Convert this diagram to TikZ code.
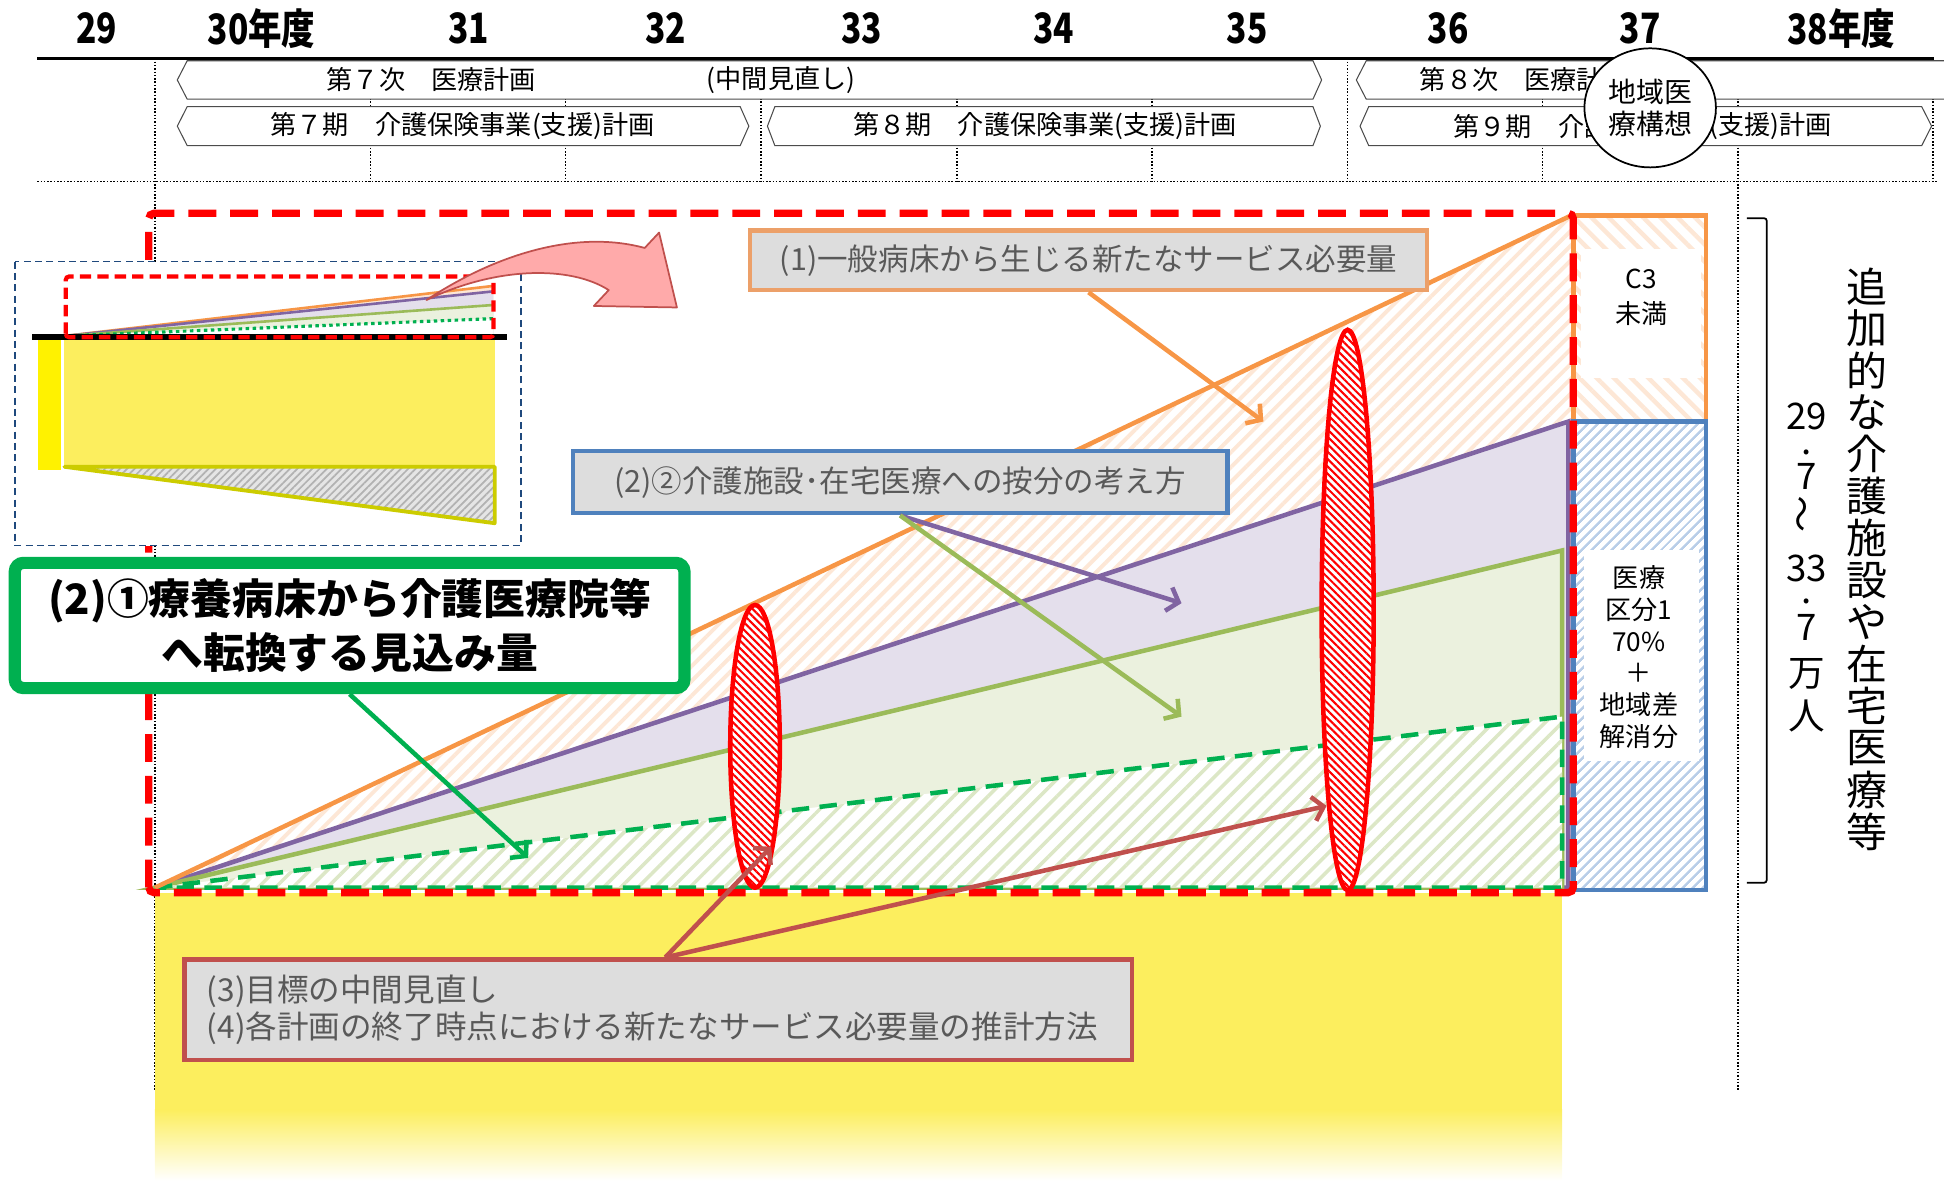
\documentclass[tikz,border=0pt]{standalone}
\usepackage{fontspec}
\usepackage{graphicx}
\setmainfont{Noto Sans CJK JP}
\newfontfamily\yearfont[FakeStretch=0.8]{Noto Sans CJK JP}
\usetikzlibrary{arrows.meta, patterns.meta, shapes.geometric, positioning}

\definecolor{chartorange}{RGB}{247,150,70}
\definecolor{chartpurple}{RGB}{128,100,162}
\definecolor{chartgreen}{RGB}{155,187,89}
\definecolor{dashgreen}{RGB}{0,176,80}
\definecolor{lavender}{RGB}{228,223,236}
\definecolor{palegreen}{RGB}{235,241,222}
\definecolor{hatchorange}{RGB}{253,231,214}
\definecolor{hatchgreen}{RGB}{220,231,198}
\definecolor{hatchblue}{RGB}{185,206,232}
\definecolor{boxblue}{RGB}{79,129,189}
\definecolor{insetblue}{RGB}{31,73,125}
\definecolor{insetolive}{RGB}{204,204,0}
\definecolor{yellowfill}{RGB}{252,238,94}
\definecolor{labelgray}{RGB}{221,221,221}
\definecolor{labeltext}{RGB}{89,89,89}
\definecolor{labelorange}{RGB}{236,160,105}
\definecolor{labelred}{RGB}{192,80,77}
\definecolor{pinkarrow}{RGB}{255,170,170}

\tikzset{
  gridline/.style={densely dotted, line width=0.9pt},
  yearlbl/.style={font=\yearfont\bfseries\fontsize{24}{26}\selectfont, inner sep=0pt},
  planbox/.style={draw=black!70, line width=0.6pt, fill=white},
  plantext/.style={font=\fontsize{15}{17}\selectfont, inner sep=0pt},
  boxtext/.style={font=\fontsize{15}{18.2}\selectfont, align=center, inner sep=0pt},
  lblbox/.style={fill=labelgray, line width=2.5pt, text=labeltext, inner sep=0pt,
    font=\fontsize{17.5}{21.3}\selectfont},
  lblarrow/.style={line width=2.6pt, -{Straight Barb[length=6pt,width=14pt]}},
  chartline/.style={line width=2.6pt},
  reddash/.style={red, line width=4.2pt, dash pattern=on 16pt off 8pt},
  orangehatch/.style={preaction={fill=white},
    pattern={Lines[angle=45,distance=6pt,line width=2.2pt]}, pattern color=hatchorange},
  greenhatch/.style={preaction={fill=white},
    pattern={Lines[angle=45,distance=7pt,line width=2pt]}, pattern color=hatchgreen},
  bluehatch/.style={preaction={fill=white},
    pattern={Lines[angle=45,distance=4pt,line width=1.5pt]}, pattern color=hatchblue},
  boxhatch/.style={preaction={fill=white},
    pattern={Lines[angle=-45,distance=7pt,line width=2.5pt]}, pattern color=hatchorange},
  ellhatch/.style={preaction={fill=white},
    pattern={Lines[angle=-45,distance=3pt,line width=1.2pt]}, pattern color=red,
    draw=red, line width=2.6pt},
  insethatch/.style={preaction={fill=gray!20},
    pattern={Lines[angle=45,distance=3pt,line width=1pt]}, pattern color=gray!60},
  greenbox/.style={draw=dashgreen, line width=7pt, fill=white, rounded corners=5pt,
    minimum width=13.5cm, minimum height=2.525cm, align=center, inner sep=0pt,
    font=\bfseries\fontsize{24}{30.5}\selectfont},
  vtext/.style={font=\fontsize{23.5}{24}\selectfont, inner sep=0pt},
  vnum/.style={font=\fontsize{21}{21.3}\selectfont, inner sep=0pt, align=center}
}

\begin{document}
\begin{tikzpicture}[x=0.025cm, y=-0.025cm]
  \useasboundingbox (0,0) rectangle (1568,952);

  % time axis
  \foreach \xx in {299,456,614,772,929,1087,1244,1559}
    \draw[gridline] (\xx,47) -- (\xx,146.5);
  \draw[gridline] (125,47) -- (125,879);
  \draw[gridline] (1402,47) -- (1402,879);
  \draw[gridline] (30,146.5) -- (1562,146.5);
  \draw[line width=2pt] (30,47) -- (1560,47);

  \foreach \xx/\yr [count=\i] in {78/29, 211/30年度, 378/31, 537/32, 695/33,
      850/34, 1006/35, 1168/36, 1323/37, 1485/38年度}
    \node[yearlbl] (yr\i) at (\xx,23) {\yr};

  \draw[planbox] (151,49) -- (1059,49) -- (1066,64.5) -- (1059,80) -- (151,80) -- (143,64.5) -- cycle;
  \draw[planbox] (1102,49) -- (1580,49) -- (1580,80) -- (1102,80) -- (1094,64.5) -- cycle;
  \draw[planbox] (151,86) -- (597,86) -- (604,101.75) -- (597,117.5) -- (151,117.5) -- (143,101.75) -- cycle;
  \draw[planbox] (625,86) -- (1059,86) -- (1065,101.75) -- (1059,117.5) -- (625,117.5) -- (619,101.75) -- cycle;
  \draw[planbox] (1104,86) -- (1550,86) -- (1558,101.75) -- (1550,117.5) -- (1104,117.5) -- (1097,101.75) -- cycle;

  \node[plantext] (med7) at (348,64.5) {第７次　医療計画};
  \node[plantext] (medmid) at (630,64.5) {(中間見直し)};
  \node[plantext, anchor=west] (med8) at (1145,64.5) {第８次　医療計};
  \node[plantext] (care7) at (373,101.75) {第７期　介護保険事業(支援)計画};
  \node[plantext] (care8) at (843,101.75) {第８期　介護保険事業(支援)計画};
  \node[plantext, anchor=west] (care9) at (1172,101.75) {第９期　介護};
  \node[plantext, anchor=east] (care9b) at (1478,101.75) {(支援)計画};

  \node[ellipse, draw, line width=1pt, fill=white, minimum width=2.65cm, minimum height=2.4cm,
    align=center, inner sep=0pt, font=\fontsize{16}{18}\selectfont] (vision) at (1331,87) {地域医\\療構想};

  % chart
  \fill[yellowfill] (125,720) rectangle (1260,896);
  \shade[top color=yellowfill, bottom color=white] (125,895) rectangle (1260,952);

  \path[orangehatch] (125,716) -- (1269,173) -- (1269,716) -- cycle;
  \filldraw[fill=lavender, draw=chartpurple, chartline] (125,716) -- (1265,340) -- (1265,716) -- cycle;
  \filldraw[fill=palegreen, draw=chartgreen, chartline] (125,716) -- (1260,444) -- (1260,716) -- cycle;
  \path[greenhatch] (125,716) -- (1260,578) -- (1260,716) -- cycle;
  \draw[dashgreen, chartline, dash pattern=on 10pt off 6pt] (125,716) -- (1260,578) -- (1260,716) -- cycle;
  \draw[chartorange, chartline] (125,716) -- (1269,173);

  \path[boxhatch] (1269,174) rectangle (1376,340);
  \fill[white] (1275,201) rectangle (1372,305);
  \draw[chartorange, chartline] (1269,174) rectangle (1376,340);
  \path[bluehatch] (1269,340) rectangle (1376,718);
  \fill[white] (1278,444) rectangle (1370,614);
  \draw[boxblue, chartline] (1269,340) rectangle (1376,718);

  \node[boxtext] (c3) at (1324,225) {C3};
  \node[boxtext] (c3b) at (1324,253) {未満};
  \node[boxtext] (kubun) at (1322,530) {医療\\区分1\\70\%\\＋\\地域差\\解消分};

  \draw[ellhatch] (609,602) ellipse [x radius=20, y radius=114];
  \draw[ellhatch] (1087,492) ellipse [x radius=21, y radius=226];

  \draw[reddash, rounded corners=3pt] (120,720) -- (120,172) -- (1269,172) -- (1269,720) -- cycle;

  % inset
  \filldraw[fill=white, draw=insetblue, line width=1pt, dash pattern=on 4pt off 2.5pt] (12,211) rectangle (420,440);
  \fill[hatchorange] (52,271) -- (398,230.6) -- (398,271) -- cycle;
  \fill[lavender] (52,271) -- (398,235) -- (398,271) -- cycle;
  \fill[palegreen] (52,271) -- (398,246) -- (398,271) -- cycle;
  \fill[white] (52,271) -- (398,257) -- (398,271) -- cycle;
  \draw[chartorange, line width=1.5pt] (52,271) -- (398,230.6);
  \draw[chartpurple, line width=1.5pt] (52,271) -- (398,235);
  \draw[chartgreen, line width=1.5pt] (52,271) -- (398,246);
  \draw[dashgreen, line width=1.8pt, dash pattern=on 2pt off 2pt] (52,271) -- (398,257);
  \fill[yellow] (31,274) rectangle (49,379);
  \fill[yellowfill] (52,274) rectangle (399,376.5);
  \filldraw[insethatch, draw=insetolive, line width=2.2pt, line join=round] (52,376.5) -- (399,376.5) -- (399,422) -- cycle;
  \draw[line width=3.5pt] (26,271.5) -- (409,271.5);
  \draw[red, line width=2.4pt, dash pattern=on 6.5pt off 3.5pt, rounded corners=2pt]
    (53,272) -- (53,223) -- (398,223) -- (398,272) -- cycle;

  \filldraw[fill=pinkarrow, draw=labelred, line width=1pt, line join=round]
    (344,242) .. controls (400,205) and (465,185) .. (520,200) -- (531.6,187.6) -- (546,248)
    -- (479,246.8) -- (491,234) .. controls (460,214) and (400,215) .. (344,242) -- cycle;

  % labels
  \node[greenbox] (conv) at (282,504.5) {(2)①療養病床から介護医療院等\\へ転換する見込み量};
  \node[lblbox, draw=labelorange, minimum width=13.65cm, minimum height=1.2cm] (need) at (878,210)
    {(1)一般病床から生じる新たなサービス必要量};
  \node[lblbox, draw=boxblue, minimum width=13.2cm, minimum height=1.25cm] (share) at (726,389)
    {(2)②介護施設･在宅医療への按分の考え方};
  \node[lblbox, draw=labelred, minimum width=19.1cm, minimum height=2.025cm, text width=18.2cm,
    align=left, font=\fontsize{18.1}{21.3}\selectfont] (review) at (531,814.5)
    {(3)目標の中間見直し\\(4)各計画の終了時点における新たなサービス必要量の推計方法};

  \coordinate (needtip) at (1019,340);
  \coordinate (sharetipa) at (953,486.5);
  \coordinate (sharetipb) at (953,578);
  \coordinate (convtip) at (426,692);
  \coordinate (reviewtipa) at (622,683);
  \coordinate (reviewtipb) at (1070,650);
  \draw[lblarrow, chartorange] (need.south) -- (needtip);
  \draw[lblarrow, chartpurple] (share.south) -- (sharetipa);
  \draw[lblarrow, chartgreen] (share.south) -- (sharetipb);
  \draw[lblarrow, dashgreen] (conv.south) -- (convtip);
  \draw[lblarrow, labelred] ([xshift=4]review.north) -- (reviewtipa);
  \draw[lblarrow, labelred] ([xshift=4]review.north) -- (reviewtipb);

  % total
  \draw[line width=1pt, rounded corners=1.5pt] (1409,176) -- (1425,176) -- (1425,712) -- (1409,712);
  \foreach \ch [count=\i from 0] in {追,加,的,な,介,護,施,設,や,在,宅,医,療,等}
    \node[vtext] (v\i) at (1506,{231+33.85*\i}) {\ch};
  \node[vnum, anchor=north] (range) at (1457,325)
    {29\\[-7pt].\\[-1.4pt]7\\[3.5pt]\rotatebox{90}{～}\\[6.4pt]33\\[-8.5pt].\\7\\[5pt]万\\[3.5pt]人};
\end{tikzpicture}
\end{document}
